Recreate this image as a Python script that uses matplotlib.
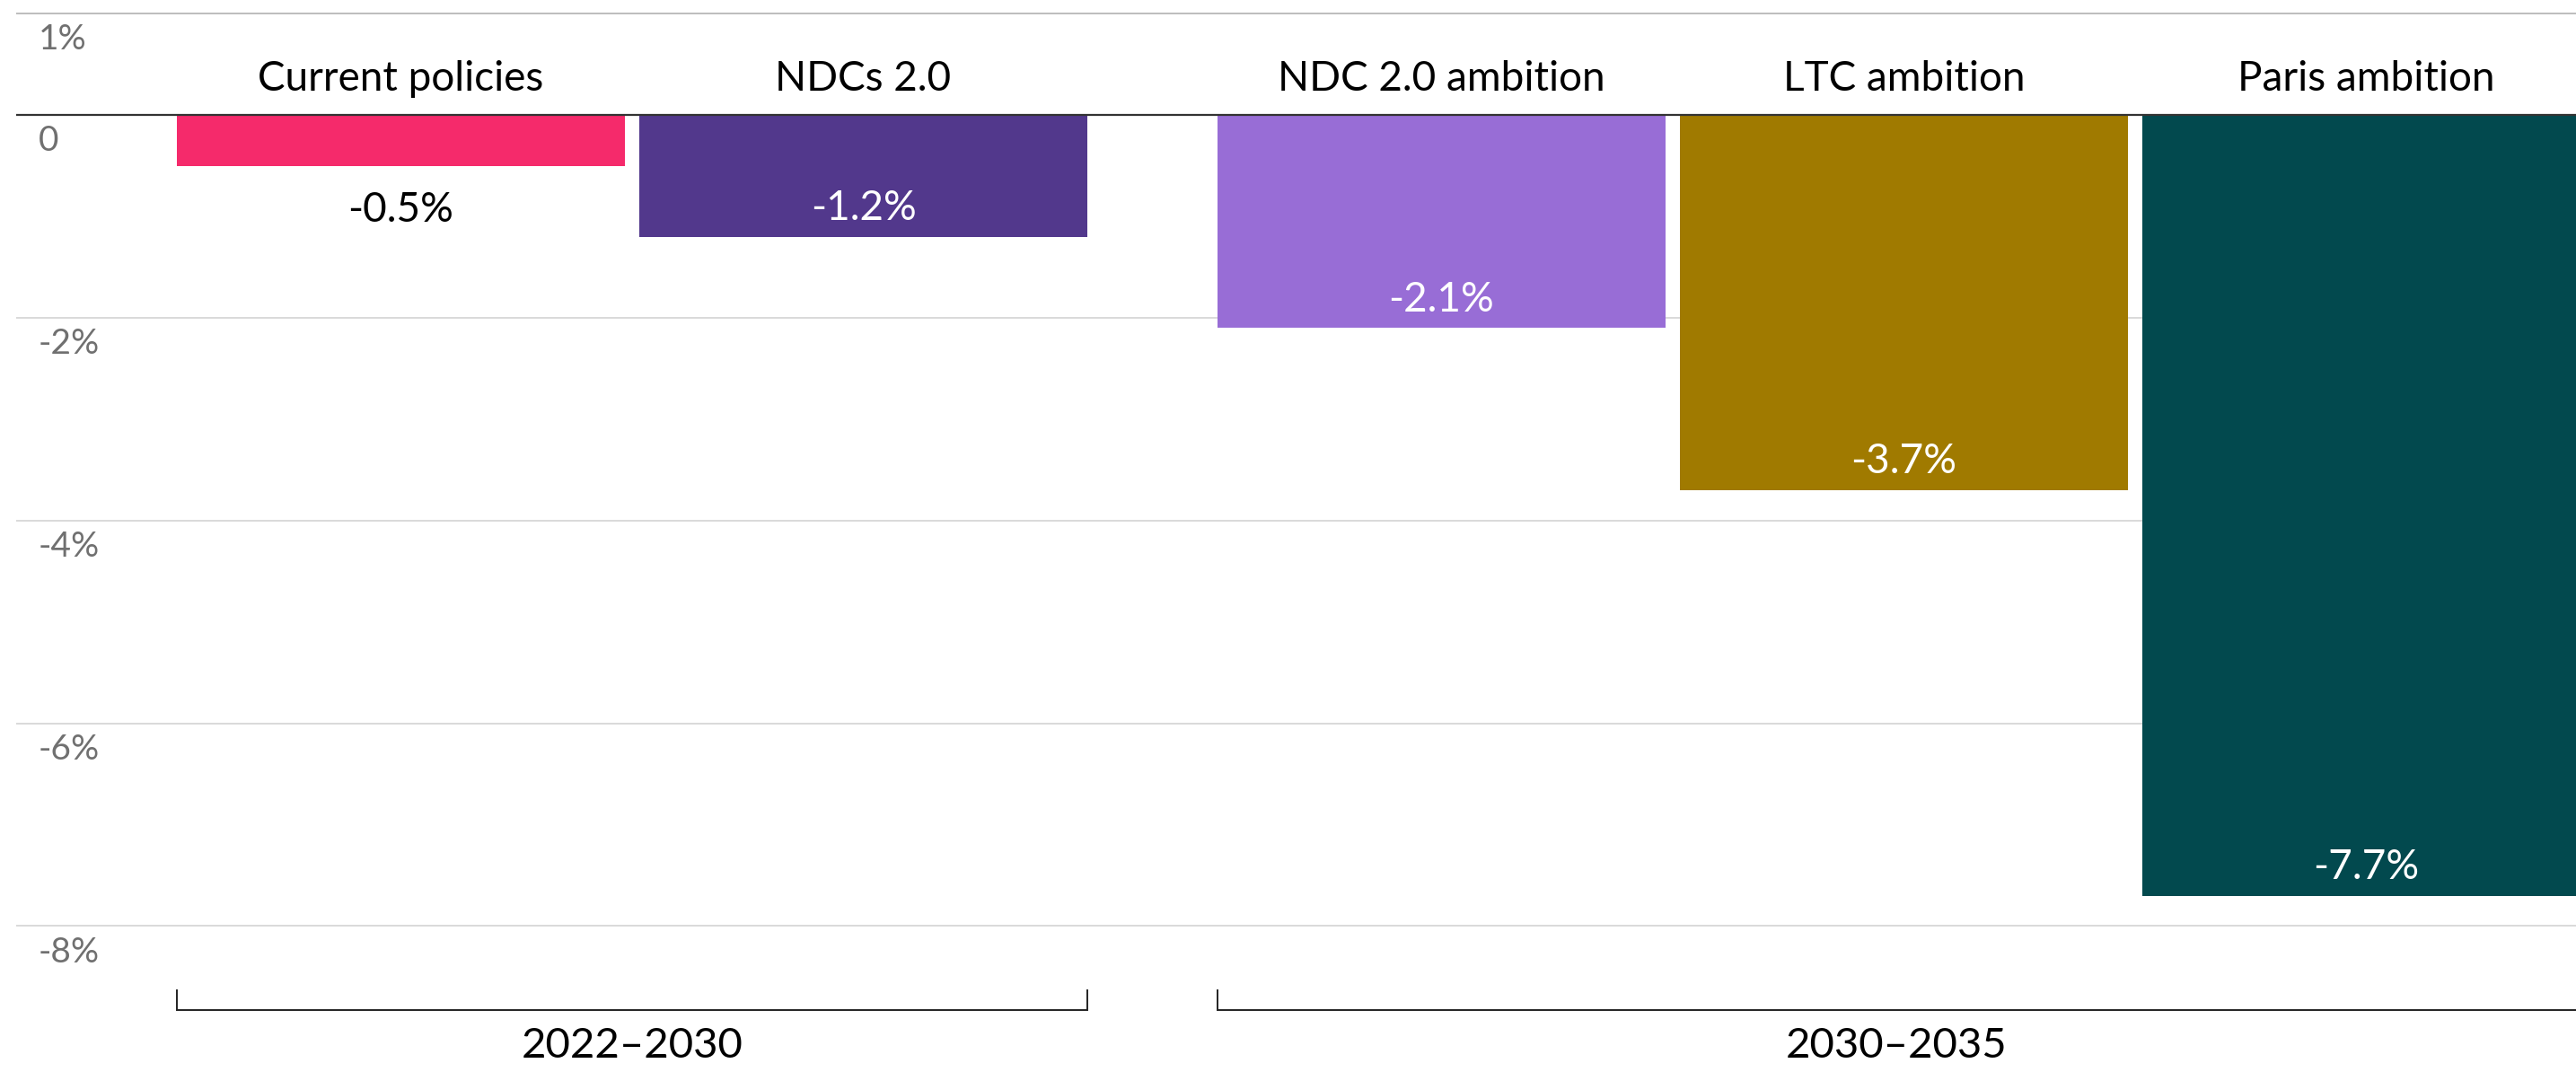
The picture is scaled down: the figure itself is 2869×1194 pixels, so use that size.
import matplotlib.pyplot as plt
import matplotlib.transforms as mtransforms

# values
categories = ['Current policies', 'NDCs 2.0', 'NDC 2.0 ambition', 'LTC ambition', 'Paris ambition']
values = [-0.5, -1.2, -2.1, -3.7, -7.7]
colors = ['#F52A6B', '#52388C', '#986DD6', '#A07A00', '#02494E']
groups = ['2022\u20132030', '2030\u20132035']
group_members = [[0, 1], [2, 3, 4]]
yticks = [1, 0, -2, -4, -6, -8]
ytick_labels = ['1%', '0', '-2%', '-4%', '-6%', '-8%']

# bar positions: two clusters with a wider gap between them
positions = [0, 1, 2.25, 3.25, 4.25]
bar_width = 0.97

plt.rcParams['font.family'] = ['Lato', 'DejaVu Sans']

fig = plt.figure(figsize=(28.69, 11.94), dpi=100)
ax = fig.add_axes([0.0064, 0, 0.9936, 1])
ax.set_xlim(-0.831, 4.703)
ax.set_ylim(-9.44, 1.134)
ax.axis('off')

# gridlines and y labels (labels sit just under their line)
blend = mtransforms.blended_transform_factory(ax.transAxes, ax.transData)
for v in yticks:
    if v == 0:
        continue
    col = '#bdbdbd' if v == 1 else '#d9d9d9'
    ax.axhline(v, color=col, lw=1.4, zorder=0)
for v, lab in zip(yticks, ytick_labels):
    ax.text(0.0085, v - 0.26, lab, transform=blend, ha='left', va='center',
            fontsize=28, color='#707070')

bars = ax.bar(positions, values, width=bar_width, color=colors, zorder=2)
ax.axhline(0, color='#333333', lw=1.6, zorder=3)

# category labels above zero line, value labels near bar ends
for x, cat, v in zip(positions, categories, values):
    ax.text(x, 0.356, cat, ha='center', va='center', fontsize=33, color='black')
    if v > -1:
        ax.text(x, v - 0.44, f'{v:.1f}%', ha='center', va='center',
                fontsize=33, color='black')
    else:
        ax.text(x, v + 0.28, f'{v:.1f}%', ha='center', va='center',
                fontsize=33, color='white', zorder=4)

# period brackets under the bars
xmin, xmax = ax.get_xlim()
for name, members in zip(groups, group_members):
    left = positions[members[0]] - bar_width / 2
    right = positions[members[-1]] + bar_width / 2
    ax.plot([left, left, right, right], [-8.63, -8.83, -8.83, -8.63],
            color='#222222', lw=1.4, solid_joinstyle='miter', clip_on=True)
    mid = (left + min(right, xmax)) / 2
    ax.text(mid, -9.18, name, ha='center', va='center', fontsize=34, color='black')

fig.savefig('out.png', dpi=100)
